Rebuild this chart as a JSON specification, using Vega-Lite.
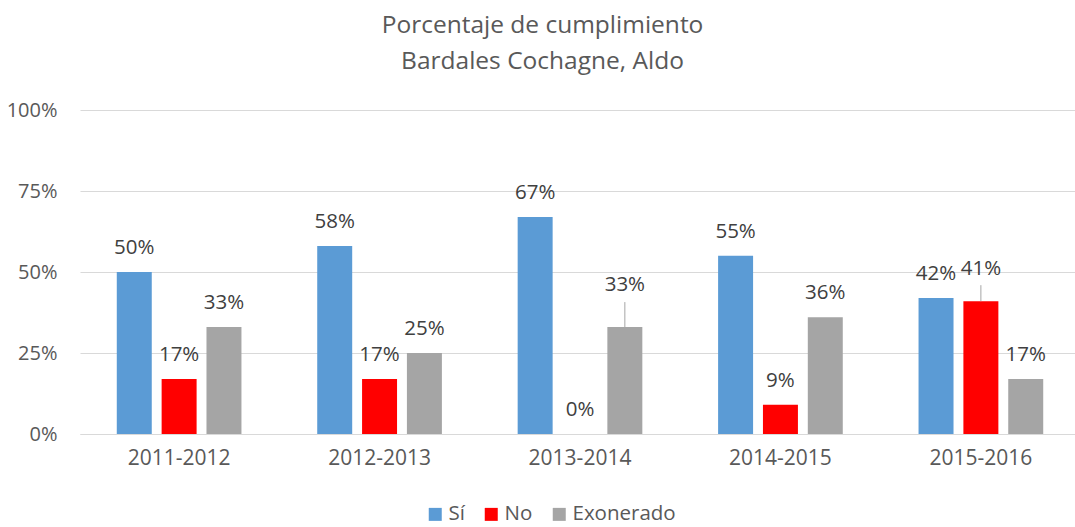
{
  "$schema": "https://vega.github.io/schema/vega-lite/v6.json",
  "width": 995,
  "height": 324,
  "autosize": {"type": "none"},
  "padding": {"left": 80, "top": 110, "right": 0, "bottom": 93},
  "background": "white",
  "config": {"font": "Open Sans", "view": {"stroke": null}},
  "title": {
    "text": ["Porcentaje de cumplimiento", "Bardales Cochagne, Aldo"],
    "fontSize": 24.5,
    "fontWeight": "normal",
    "color": "#595959",
    "lineHeight": 36,
    "anchor": "middle",
    "offset": 26,
    "dx": -35
  },
  "data": {
    "values": [
      {"periodo": "2011-2012", "serie": "Sí", "valor": 0.50},
      {"periodo": "2011-2012", "serie": "No", "valor": 0.17},
      {"periodo": "2011-2012", "serie": "Exonerado", "valor": 0.33},
      {"periodo": "2012-2013", "serie": "Sí", "valor": 0.58},
      {"periodo": "2012-2013", "serie": "No", "valor": 0.17},
      {"periodo": "2012-2013", "serie": "Exonerado", "valor": 0.25},
      {"periodo": "2013-2014", "serie": "Sí", "valor": 0.67},
      {"periodo": "2013-2014", "serie": "No", "valor": 0.0},
      {"periodo": "2013-2014", "serie": "Exonerado", "valor": 0.33},
      {"periodo": "2014-2015", "serie": "Sí", "valor": 0.55},
      {"periodo": "2014-2015", "serie": "No", "valor": 0.09},
      {"periodo": "2014-2015", "serie": "Exonerado", "valor": 0.36},
      {"periodo": "2015-2016", "serie": "Sí", "valor": 0.42},
      {"periodo": "2015-2016", "serie": "No", "valor": 0.41},
      {"periodo": "2015-2016", "serie": "Exonerado", "valor": 0.17}
    ]
  },
  "encoding": {
    "x": {
      "field": "periodo",
      "type": "nominal",
      "sort": null,
      "scale": {"range": [0, 1000], "paddingInner": 0.378, "paddingOuter": 0.1835},
      "axis": {
        "title": null,
        "labelAngle": 0,
        "labelFontSize": 21,
        "labelColor": "#595959",
        "ticks": false,
        "domain": true,
        "domainColor": "#D9D9D9",
        "labelPadding": 13,
        "grid": false
      }
    },
    "xOffset": {
      "field": "serie",
      "type": "nominal",
      "sort": ["Sí", "No", "Exonerado"],
      "scale": {"paddingInner": 0.22, "paddingOuter": 0}
    },
    "y": {
      "field": "valor",
      "type": "quantitative",
      "scale": {"domain": [0, 1]},
      "axis": {
        "title": null,
        "format": ".0%",
        "values": [0, 0.25, 0.5, 0.75, 1],
        "grid": true,
        "gridColor": "#D9D9D9",
        "domain": false,
        "ticks": false,
        "labelPadding": 23,
        "labelFontSize": 20,
        "labelColor": "#595959"
      }
    }
  },
  "layer": [
    {
      "mark": {"type": "bar"},
      "encoding": {
        "color": {
          "field": "serie",
          "type": "nominal",
          "sort": ["Sí", "No", "Exonerado"],
          "scale": {"domain": ["Sí", "No", "Exonerado"], "range": ["#5B9BD5", "#FF0000", "#A5A5A5"]},
          "legend": {
            "title": null,
            "orient": "none",
            "legendX": 345,
            "legendY": 394,
            "direction": "horizontal",
            "labelFontSize": 20.5,
            "labelColor": "#595959",
            "symbolType": "square",
            "symbolSize": 169,
            "symbolStrokeWidth": 0,
            "columnPadding": 16,
            "labelOffset": 3
          }
        }
      }
    },
    {
      "transform": [{"filter": "!((datum.periodo == '2013-2014' && datum.serie == 'Exonerado') || (datum.periodo == '2015-2016' && datum.serie == 'No'))"}],
      "mark": {"type": "text", "baseline": "middle", "dy": -24, "fontSize": 20.5, "color": "#404040"},
      "encoding": {"text": {"field": "valor", "type": "quantitative", "format": ".0%"}}
    },
    {
      "transform": [{"filter": "datum.periodo == '2013-2014' && datum.serie == 'Exonerado'"}],
      "mark": {"type": "text", "baseline": "middle", "dy": -42, "fontSize": 20.5, "color": "#404040"},
      "encoding": {"text": {"field": "valor", "type": "quantitative", "format": ".0%"}}
    },
    {
      "transform": [{"filter": "datum.periodo == '2015-2016' && datum.serie == 'No'"}],
      "mark": {"type": "text", "baseline": "middle", "dy": -32, "fontSize": 20.5, "color": "#404040"},
      "encoding": {"text": {"field": "valor", "type": "quantitative", "format": ".0%"}}
    },
    {
      "transform": [{"filter": "datum.periodo == '2013-2014' && datum.serie == 'Exonerado'"}],
      "mark": {"type": "rule", "color": "#A6A6A6", "strokeWidth": 1, "yOffset": 0, "y2Offset": -25},
      "encoding": {"y2": {"field": "valor"}}
    },
    {
      "transform": [{"filter": "datum.periodo == '2015-2016' && datum.serie == 'No'"}],
      "mark": {"type": "rule", "color": "#A6A6A6", "strokeWidth": 1, "yOffset": 0, "y2Offset": -16},
      "encoding": {"y2": {"field": "valor"}}
    }
  ]
}
